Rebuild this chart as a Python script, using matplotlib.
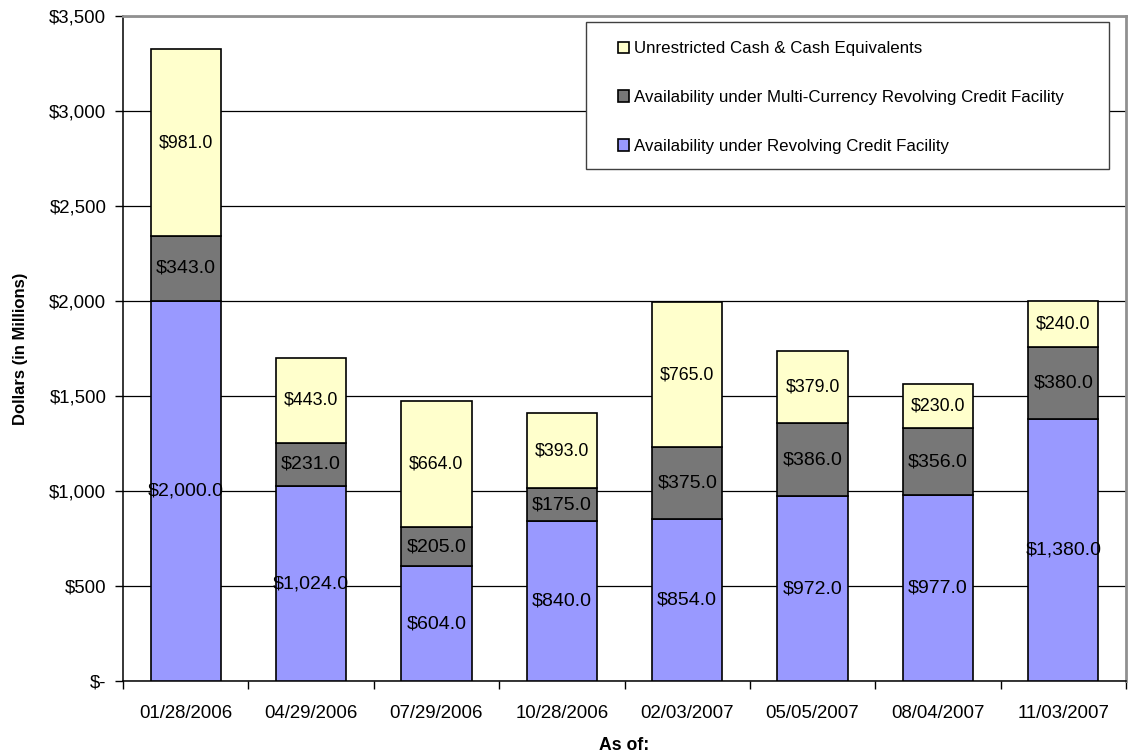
import numpy as np
import matplotlib
matplotlib.use("Agg")
import matplotlib.pyplot as plt
from matplotlib.patches import Rectangle
from matplotlib.ticker import FuncFormatter

plt.rcParams['font.family'] = ['Liberation Sans', 'DejaVu Sans']

# quarter-end dates and liquidity components ($ millions)
dates = ["01/28/2006", "04/29/2006", "07/29/2006", "10/28/2006",
         "02/03/2007", "05/05/2007", "08/04/2007", "11/03/2007"]
revolver = [2000, 1024, 604, 840, 854, 972, 977, 1380]
multi_currency = [343, 231, 205, 175, 375, 386, 356, 380]
cash = [981, 443, 664, 393, 765, 379, 230, 240]

blue = "#9999FF"
grey = "#777777"
yellow = "#FFFFCC"

fig = plt.figure(figsize=(11.29, 7.55), dpi=100)
ax = fig.add_axes([123 / 1129, 1 - 681 / 755, 1003 / 1129, 665 / 755])

x = np.arange(len(dates))
w = 0.56
rev = np.array(revolver, dtype=float)
mc = np.array(multi_currency, dtype=float)
ch = np.array(cash, dtype=float)

b1 = ax.bar(x, rev, w, color=blue, edgecolor="black", linewidth=1.2, zorder=3,
            label="Availability under Revolving Credit Facility")
b2 = ax.bar(x, mc, w, bottom=rev, color=grey, edgecolor="black", linewidth=1.2,
            zorder=3, label="Availability under Multi-Currency Revolving Credit Facility")
b3 = ax.bar(x, ch, w, bottom=rev + mc, color=yellow, edgecolor="black",
            linewidth=1.2, zorder=3, label="Unrestricted Cash & Cash Equivalents")

# value labels centred in each segment
for i in range(len(dates)):
    ax.text(x[i], rev[i] / 2, "${:,.1f}".format(rev[i]), ha="center",
            va="center", fontsize=14, zorder=4)
    ax.text(x[i], rev[i] + mc[i] / 2, "${:,.1f}".format(mc[i]), ha="center",
            va="center", fontsize=14, zorder=4)
    ax.text(x[i], rev[i] + mc[i] + ch[i] / 2, "${:,.1f}".format(ch[i]),
            ha="center", va="center", fontsize=12.8, zorder=4)

ax.set_xlim(-0.5, len(dates) - 0.5)
ax.set_ylim(0, 3500)
ax.set_yticks(np.arange(0, 3501, 500))


def dollars(v, pos):
    if v == 0:
        return "$-"
    return "${:,.0f}".format(v)


ax.yaxis.set_major_formatter(FuncFormatter(dollars))
ax.yaxis.grid(True, color="black", linewidth=0.9, zorder=0)

# category labels sit between boundary ticks
ax.set_xticks(np.arange(len(dates) + 1) - 0.5)
ax.set_xticklabels([])
ax.set_xticks(x, minor=True)
ax.set_xticklabels(dates, minor=True)
ax.tick_params(axis="x", which="minor", length=0, pad=17, labelsize=13.4)
ax.tick_params(axis="x", which="major", length=6, width=1, direction="out")
ax.tick_params(axis="y", length=6, width=1, direction="out", labelsize=13.4, pad=6)

for s in ["left", "bottom"]:
    ax.spines[s].set_color("black")
    ax.spines[s].set_linewidth(1.1)
for s in ["top", "right"]:
    ax.spines[s].set_color("#909090")
    ax.spines[s].set_linewidth(2)

ax.set_ylabel("Dollars (in Millions)", fontsize=12, fontweight="bold", labelpad=15)
ax.set_xlabel("As of:", fontsize=12.7, fontweight="bold", labelpad=11)

# legend box drawn separately so the entries can be inset from its left edge
frame = Rectangle((0.462, 0.770), 0.521, 0.221, transform=ax.transAxes,
                  facecolor="white", edgecolor="#404040", linewidth=1.0, zorder=5)
ax.add_patch(frame)
leg = ax.legend(handles=[b3, b2, b1], loc="upper left",
                bbox_to_anchor=(0.4736, 0.991), fontsize=12.2, frameon=False,
                handlelength=0.7, handleheight=0.7, handletextpad=0.3,
                labelspacing=2.0, borderpad=1.15, borderaxespad=0)
leg.set_zorder(6)

fig.savefig("out.png", dpi=100)
